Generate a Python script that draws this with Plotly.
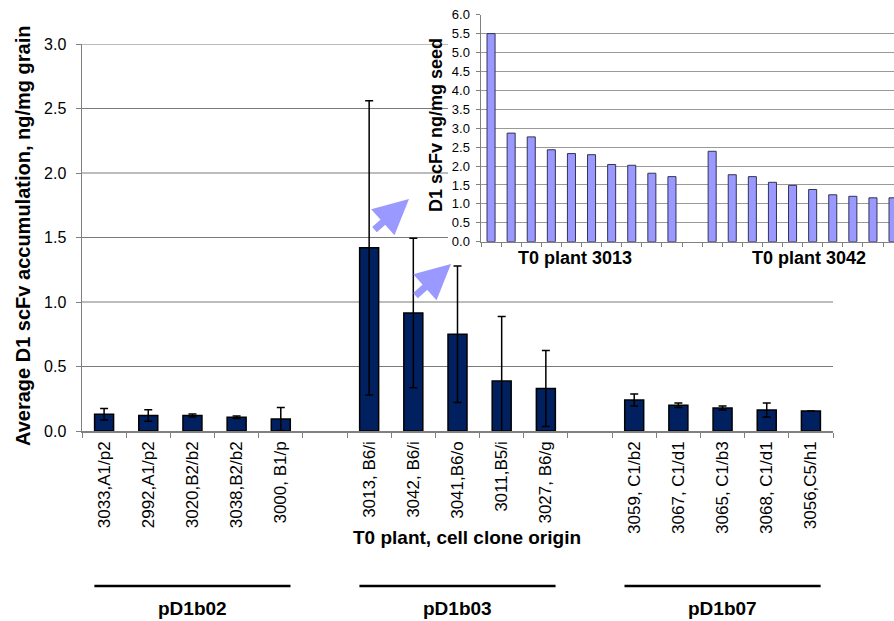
import plotly.graph_objects as go

W, H = 894, 621

# ---------------- data ----------------
pd1b02_labels = ["3033,A1/p2", "2992,A1/p2", "3020,B2/b2", "3038,B2/b2", "3000, B1/p"]
pd1b02_vals = [0.13, 0.12, 0.12, 0.107, 0.093]
pd1b02_err = [0.045, 0.045, 0.012, 0.010, 0.09]

pd1b03_labels = ["3013, B6/i", "3042, B6/i", "3041,B6/o", "3011,B5/i", "3027, B6/g"]
pd1b03_vals = [1.42, 0.915, 0.75, 0.387, 0.33]
pd1b03_err = [1.14, 0.58, 0.53, 0.50, 0.295]

pd1b07_labels = ["3059, C1/b2", "3067, C1/d1", "3065, C1/b3", "3068, C1/d1", "3056,C5/h1"]
pd1b07_vals = [0.24, 0.20, 0.178, 0.163, 0.155]
pd1b07_err = [0.047, 0.018, 0.015, 0.055, None]

group_names = ["pD1b02", "pD1b03", "pD1b07"]

main_yticks = [0.0, 0.5, 1.0, 1.5, 2.0, 2.5, 3.0]

inset_3013 = [5.50, 2.87, 2.77, 2.43, 2.33, 2.30, 2.04, 2.02, 1.81, 1.72]
inset_3042 = [2.39, 1.77, 1.72, 1.57, 1.49, 1.38, 1.24, 1.20, 1.16, 1.16]
inset_group_names = ["T0 plant 3013", "T0 plant 3042"]
inset_yticks = [i * 0.5 for i in range(13)]

# ---------------- assemble ----------------
cats = pd1b02_labels + [" "] + pd1b03_labels + ["  "] + pd1b07_labels
vals = pd1b02_vals + [None] + pd1b03_vals + [None] + pd1b07_vals
errs = pd1b02_err + [None] + pd1b03_err + [None] + pd1b07_err

inset_cats = ["a%d" % i for i in range(len(inset_3013))] + ["gap"] + \
             ["b%d" % i for i in range(len(inset_3042))]
inset_vals = inset_3013 + [None] + inset_3042

FONT = "Liberation Sans, Arial, sans-serif"

# layout geometry (pixels)
M_L, M_R, M_T, M_B = 82, 833, 44, 431
I_L, I_T, I_B = 481, 14.7, 241.7
I_SLOT = 20.1
BOX_L, BOX_B = 448, 295

def px(x):
    return x / W

def py(y):
    return 1 - y / H

ncat = len(cats)
slot = (M_R - M_L) / ncat

fig = go.Figure()

fig.add_trace(go.Bar(
    x=cats, y=vals, width=0.43,
    marker=dict(color="#00205f", line=dict(color="#000000", width=1.5)),
    error_y=dict(type="data", array=errs, visible=True, color="#000000",
                 thickness=1.5, width=4),
    xaxis="x", yaxis="y", showlegend=False, hoverinfo="skip",
))

fig.add_trace(go.Bar(
    x=inset_cats, y=inset_vals, width=0.4,
    marker=dict(color="#9999ff", line=dict(color="#333355", width=1)),
    xaxis="x2", yaxis="y2", showlegend=False, hoverinfo="skip",
))

shapes = []
# main gridlines (stop at the inset box)
ymax = main_yticks[-1]
box_left_data = (BOX_L - M_L) / slot - 0.5
for v in main_yticks[1:]:
    ypix = M_T + (ymax - v) / ymax * (M_B - M_T)
    x1 = box_left_data if ypix < BOX_B else ncat - 0.5
    shapes.append(dict(type="line", xref="x", yref="y",
                       x0=-0.5, x1=x1, y0=v, y1=v,
                       line=dict(color="#7a7a7a", width=1), layer="below"))

# group lines below the x axis
n = len(pd1b02_labels)
centers = [(n - 1) / 2, n + 1 + (n - 1) / 2, 2 * (n + 1) + (n - 1) / 2]
for c in centers:
    shapes.append(dict(type="line", xref="x", yref="paper",
                       x0=c - 2.22, x1=c + 2.22, y0=py(586), y1=py(586),
                       line=dict(color="#000000", width=2.5)))

def label(text, x, y, size, xref="paper", angle=0):
    return dict(text=text, xref=xref, yref="paper", x=x, y=y,
                xanchor="center", yanchor="middle", textangle=angle,
                showarrow=False, font=dict(family=FONT, size=size, color="#000"))

annotations = []
annotations.append(label("<b>Average D1 scFv accumulation, ng/mg grain</b>",
                         px(23), py(236), 20, angle=-90))
annotations.append(label("<b>T0 plant, cell clone origin</b>",
                         px(467), py(537), 19))
for c, name in zip(centers, group_names):
    annotations.append(label("<b>%s</b>" % name, c, py(608), 19, xref="x"))
annotations.append(label("<b>D1 scFv ng/mg seed</b>", px(436), py(125), 18,
                         angle=-90))
m = len(inset_3013)
inset_centers = [(m - 1) / 2 - 0.3, m + 1 + (m - 1) / 2 + 0.3]
for c, name in zip(inset_centers, inset_group_names):
    annotations.append(label("<b>%s</b>" % name, c, py(258), 18, xref="x2"))
# arrows
for (tx, ty), (sx, sy) in [((409, 199), (373, 231)), ((451, 264), (414, 297))]:
    annotations.append(dict(text="", xref="paper", yref="paper",
                            x=px(tx), y=py(ty), ax=sx - tx, ay=sy - ty,
                            showarrow=True, arrowhead=2, arrowsize=1.0,
                            arrowwidth=7, arrowcolor="#9999ff", standoff=0))

fig.update_layout(
    width=W, height=H,
    margin=dict(l=0, r=0, t=0, b=0, autoexpand=False),
    paper_bgcolor="white", plot_bgcolor="white",
    font=dict(family=FONT, color="#000"),
    shapes=shapes, annotations=annotations,
    xaxis=dict(domain=[px(M_L), px(M_R)], anchor="y", type="category",
               categoryorder="array", categoryarray=cats,
               range=[-0.5, ncat - 0.5], tickson="boundaries",
               ticks="outside", ticklen=5, tickcolor="#808080",
               showline=True, linecolor="#808080", linewidth=1.5,
               tickangle=-90, tickfont=dict(size=17, family=FONT),
               ticklabelstandoff=2, showgrid=False, automargin=False),
    yaxis=dict(domain=[py(M_B), py(M_T)], anchor="x", range=[0, 3],
               tickvals=main_yticks, tickformat=".1f",
               ticks="outside", ticklen=5, tickcolor="#808080",
               showline=True, linecolor="#808080", linewidth=1.5,
               showgrid=False, zeroline=False, automargin=False,
               tickfont=dict(size=16, family=FONT), ticklabelstandoff=6),
    xaxis2=dict(domain=[px(I_L), 1.0], anchor="y2", type="category",
                categoryorder="array", categoryarray=inset_cats,
                range=[-0.5, -0.5 + (W - I_L) / I_SLOT], tickson="boundaries",
                ticks="outside", ticklen=4, tickcolor="#808080",
                showline=True, linecolor="#808080", linewidth=1.5,
                showticklabels=False, showgrid=False, automargin=False),
    yaxis2=dict(domain=[py(I_B), py(I_T)], anchor="x2", range=[0, 6],
                tickvals=inset_yticks, tickformat=".1f",
                ticks="outside", ticklen=4, tickcolor="#808080",
                showline=True, linecolor="#808080", linewidth=1.5,
                showgrid=True, gridcolor="#999999", gridwidth=1,
                zeroline=False, automargin=False,
                tickfont=dict(size=13, family=FONT), ticklabelstandoff=3),
)

fig.write_html("out.html",
               config={"displayModeBar": False, "staticPlot": True},
               post_script="document.body.style.margin='0px';"
                           "document.body.style.overflow='hidden';")
